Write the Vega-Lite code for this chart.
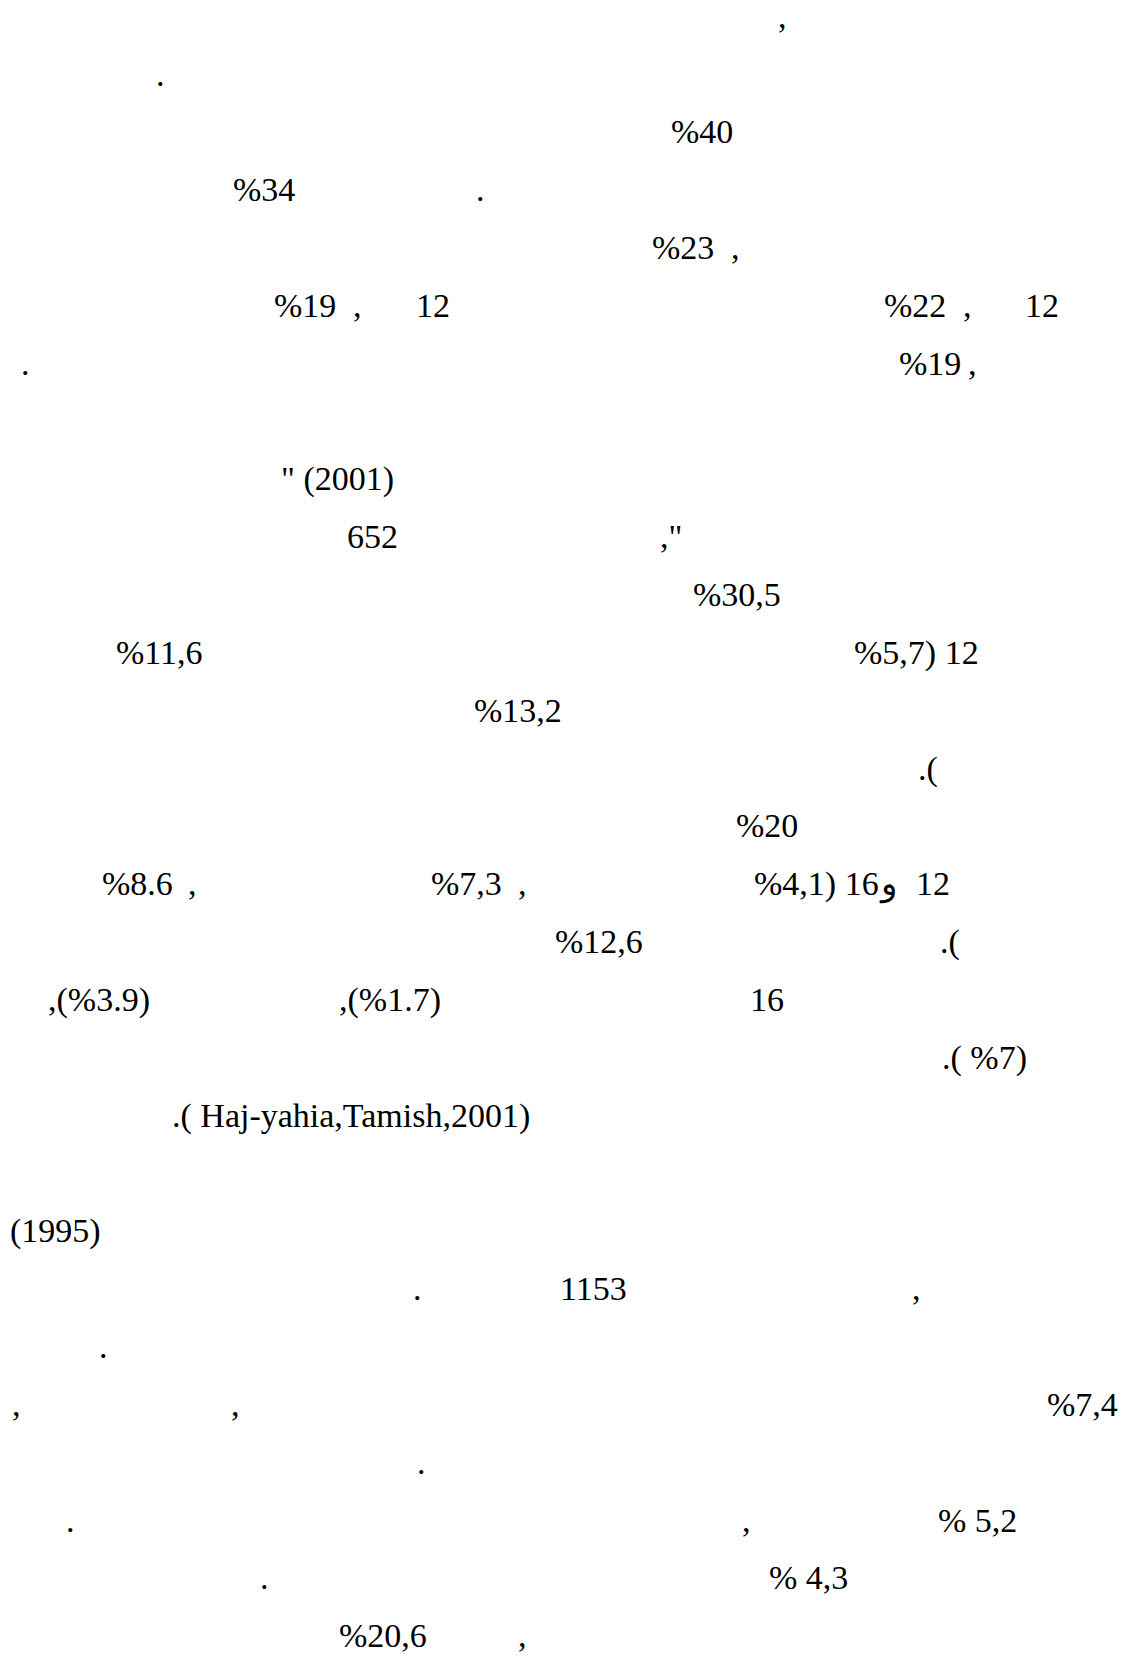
{
  "$schema": "https://vega.github.io/schema/vega-lite/v6.json",
  "autosize": {"type": "fit", "contains": "padding"},
  "width": 1127,
  "height": 1669,
  "padding": 0,
  "background": "white",
  "config": {"view": {"stroke": null}},
  "data": {"values": [
    {"t": ",", "col": 778, "line": 1},
    {"t": ".", "col": 156, "line": 2},
    {"t": "%40", "col": 671, "line": 3},
    {"t": "%34", "col": 233, "line": 4},
    {"t": ".", "col": 476, "line": 4},
    {"t": "%23", "col": 652, "line": 5},
    {"t": ",", "col": 731, "line": 5},
    {"t": "%19", "col": 274, "line": 6},
    {"t": ",", "col": 353, "line": 6},
    {"t": "12", "col": 416, "line": 6},
    {"t": "%22", "col": 884, "line": 6},
    {"t": ",", "col": 963, "line": 6},
    {"t": "12", "col": 1025, "line": 6},
    {"t": ".", "col": 21, "line": 7},
    {"t": "%19", "col": 899, "line": 7},
    {"t": ",", "col": 968, "line": 7},
    {"t": "\" (2001)", "col": 281, "line": 9},
    {"t": "652", "col": 347, "line": 10},
    {"t": ",\"", "col": 660, "line": 10},
    {"t": "%30,5", "col": 693, "line": 11},
    {"t": "%11,6", "col": 116, "line": 12},
    {"t": "%5,7) 12", "col": 854, "line": 12},
    {"t": "%13,2", "col": 474, "line": 13},
    {"t": ".(", "col": 918, "line": 14},
    {"t": "%20", "col": 736, "line": 15},
    {"t": "%8.6", "col": 102, "line": 16},
    {"t": ",", "col": 188, "line": 16},
    {"t": "%7,3", "col": 431, "line": 16},
    {"t": ",", "col": 518, "line": 16},
    {"t": "%4,1) 16", "col": 754, "line": 16},
    {"t": "و", "col": 881, "line": 16},
    {"t": "12", "col": 916, "line": 16},
    {"t": "%12,6", "col": 555, "line": 17},
    {"t": ".(", "col": 940, "line": 17},
    {"t": ",(%3.9)", "col": 48, "line": 18},
    {"t": ",(%1.7)", "col": 339, "line": 18},
    {"t": "16", "col": 750, "line": 18},
    {"t": ".( %7)", "col": 942, "line": 19},
    {"t": ".( Haj-yahia,Tamish,2001)", "col": 172, "line": 20},
    {"t": "(1995)", "col": 10, "line": 22},
    {"t": ".", "col": 413, "line": 23},
    {"t": "1153", "col": 560, "line": 23},
    {"t": ",", "col": 912, "line": 23},
    {"t": ".", "col": 99, "line": 24},
    {"t": ",", "col": 12, "line": 25},
    {"t": ",", "col": 231, "line": 25},
    {"t": "%7,4", "col": 1047, "line": 25},
    {"t": ".", "col": 417, "line": 26},
    {"t": ".", "col": 66, "line": 27},
    {"t": ",", "col": 742, "line": 27},
    {"t": "% 5,2", "col": 938, "line": 27},
    {"t": ".", "col": 260, "line": 28},
    {"t": "% 4,3", "col": 769, "line": 28},
    {"t": "%20,6", "col": 339, "line": 29},
    {"t": ",", "col": 518, "line": 29}
  ]},
  "mark": {
    "type": "text",
    "align": "left",
    "baseline": "alphabetic",
    "font": "Liberation Serif",
    "fontSize": 34,
    "color": "black"
  },
  "encoding": {
    "x": {"field": "col", "type": "quantitative", "axis": null,
          "scale": {"domain": [0, 1127], "zero": false, "nice": false}},
    "y": {"field": "line", "type": "quantitative", "axis": null,
          "scale": {"domain": [0.6593, 29.376], "zero": false, "nice": false, "reverse": true}},
    "text": {"field": "t", "type": "nominal"}
  }
}
